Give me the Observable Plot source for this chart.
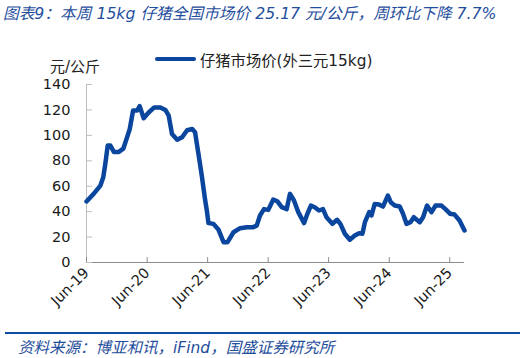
<!DOCTYPE html>
<html><head><meta charset="utf-8">
<script src="https://cdn.jsdelivr.net/npm/d3@7"></script>
<script src="https://cdn.jsdelivr.net/npm/@observablehq/plot@0.6"></script>
<style>
body{margin:0;background:#fff;width:525px;height:358px;overflow:hidden;position:relative;font-family:"DejaVu Sans","Noto Sans CJK SC",sans-serif;}
#title{position:absolute;left:3px;top:1px;font-size:15.7px;font-style:italic;color:#1f4e9d;white-space:nowrap;}
#legend{position:absolute;left:155px;top:48px;display:flex;align-items:center;font-size:15.3px;color:#222;white-space:nowrap;}
#legend .sw{width:41px;height:4px;background:#0a469e;border-radius:2px;margin-right:4px;}
#unit{position:absolute;left:50px;top:60px;font-size:15px;line-height:15px;color:#222;}
#chart{position:absolute;left:0;top:0;}
#rule{position:absolute;left:5px;top:332px;width:515px;height:2px;background:#0b4ea2;}
#caption{position:absolute;left:18px;top:335px;font-size:15.5px;font-style:italic;color:#1f4e9d;white-space:nowrap;}
</style></head>
<body>
<div id="chart"></div>
<div id="title"></div>
<div id="legend"><div class="sw"></div><span id="legtext"></span></div>
<div id="unit"></div>
<div id="rule"></div>
<div id="caption"></div>
<script>
const titleText = "图表9：本周 15kg 仔猪全国市场价 25.17 元/公斤，周环比下降 7.7%";
const seriesName = "仔猪市场价(外三元15kg)";
const unitText = "元/公斤";
const captionText = "资料来源：博亚和讯，iFind，国盛证券研究所";

const dates = ["2019-06-01","2019-07-14","2019-08-24","2019-09-10","2019-09-24","2019-10-07","2019-10-23","2019-11-13","2019-12-13","2020-01-09","2020-01-28","2020-02-17","2020-03-08","2020-04-01","2020-04-17","2020-05-11","2020-06-10","2020-07-14","2020-08-20","2020-09-19","2020-10-09","2020-10-29","2020-11-29","2020-12-29","2021-01-28","2021-02-28","2021-03-17","2021-04-07","2021-04-27","2021-05-17","2021-05-27","2021-06-06","2021-07-06","2021-08-06","2021-09-05","2021-09-29","2021-11-04","2021-12-14","2022-01-24","2022-03-03","2022-03-24","2022-04-13","2022-05-07","2022-06-02","2022-07-02","2022-07-26","2022-08-22","2022-09-21","2022-10-11","2022-11-04","2022-11-30","2023-01-04","2023-01-24","2023-02-14","2023-03-09","2023-04-04","2023-04-28","2023-05-19","2023-06-24","2023-07-22","2023-08-11","2023-09-07","2023-10-07","2023-11-06","2023-12-02","2023-12-22","2024-01-06","2024-02-01","2024-02-15","2024-03-05","2024-03-31","2024-04-24","2024-05-24","2024-06-10","2024-07-04","2024-08-03","2024-08-23","2024-09-13","2024-10-07","2024-10-27","2024-12-02","2024-12-22","2025-01-15","2025-02-11","2025-03-07","2025-04-11","2025-05-06","2025-06-04","2025-06-30","2025-07-30","2025-08-29"];
const prices = [48,54,60.5,67,79,92,92,87,87,89.5,97,105,119.5,119.5,123,113.5,118,122,122,120,115.6,101,96.5,98.5,104,105,102.5,85,68,49,41,31,30.4,25.7,16,16,23.8,27,27.8,27.8,29,37,42,41.4,49.5,48.2,43.5,42,54,48.8,39.6,31,38.3,44.8,43.5,40.9,42,35.6,30.4,33.6,30.4,22.6,17.9,21.2,23,22.6,31.7,39.6,37,46,45.6,44,52.7,47.4,44.8,44,38.3,30.4,31.7,35.6,31.7,35.6,44.8,39.6,44.8,44.8,42,38.3,37.7,33,25.17];

const xTickDates = ["2019-06-01","2020-06-01","2021-06-01","2022-06-01","2023-06-01","2024-06-01","2025-06-01"];
const xTickLabels = ["Jun-19","Jun-20","Jun-21","Jun-22","Jun-23","Jun-24","Jun-25"];
const yTicks = [0,20,40,60,80,100,120,140];

document.getElementById("title").textContent = titleText;
document.getElementById("legtext").textContent = seriesName;
document.getElementById("unit").textContent = unitText;
document.getElementById("caption").textContent = captionText;

const data = dates.map((d,i)=>({date:new Date(d), price:prices[i]}));
const xt = xTickDates.map(d=>new Date(d));
const x0 = new Date(dates[0]);
const x1 = new Date(dates[dates.length-1]);
const tickShape = {draw(ctx, l){ctx.moveTo(0,0); ctx.lineTo(0,-l);}};

const chart = Plot.plot({
  width:525, height:330,
  marginTop:84, marginBottom:68, marginLeft:86, marginRight:61,
  style:{fontSize:"14.5px", fontFamily:"'DejaVu Sans','Noto Sans CJK SC',sans-serif", color:"#1a1a1a", background:"transparent"},
  x:{type:"utc", domain:[x0, x1]},
  y:{domain:[0,140]},
  marks:[
    Plot.ruleX([x0], {stroke:"#bdbdbd", strokeWidth:1}),
    Plot.ruleY([0], {stroke:"#8c8c8c", strokeWidth:1}),
    Plot.vector(xt, {x:d=>d, y:()=>0, length:5, rotate:0, anchor:"start", shape:tickShape, stroke:"#8c8c8c", strokeWidth:1}),
    Plot.vector(yTicks, {x:()=>x0, y:d=>d, length:5, rotate:90, anchor:"start", shape:tickShape, stroke:"#bdbdbd", strokeWidth:1}),
    Plot.axisY({ticks:yTicks, tickSize:0, tickPadding:16, label:null}),
    Plot.axisX({ticks:xt, tickFormat:(d,i)=>xTickLabels[i], tickRotate:-45, tickSize:0, tickPadding:8, label:null}),
    Plot.lineY(data, {x:"date", y:"price", stroke:"#0a469e", strokeWidth:4.5, strokeLinejoin:"round", strokeLinecap:"round"})
  ]
});
document.getElementById("chart").appendChild(chart);
</script>
</body></html>
